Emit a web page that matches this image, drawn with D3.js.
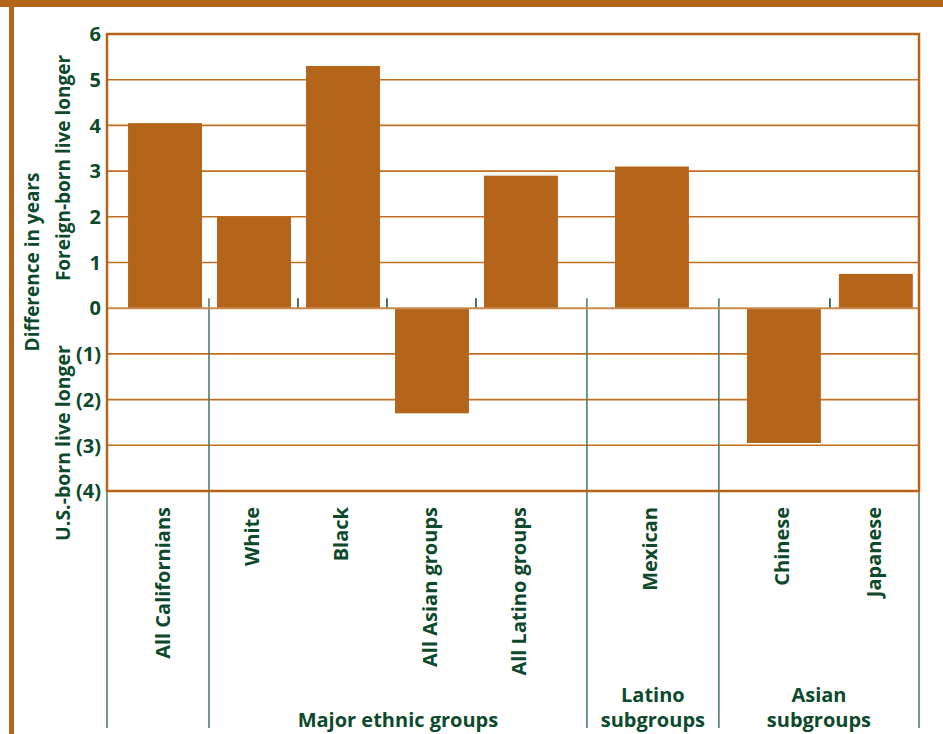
<!DOCTYPE html>
<html>
<head>
<meta charset="utf-8">
<script src="https://cdn.jsdelivr.net/npm/d3@7"></script>
<style>
  html, body { margin: 0; padding: 0; background: #ffffff; }
  svg { display: block; }
  text { font-family: "Open Sans", "Noto Sans", sans-serif; font-weight: 700; fill: #0d4a2c; }
</style>
</head>
<body>
<script>
// ---- data ----
const categories = ["All Californians", "White", "Black", "All Asian groups", "All Latino groups", "Mexican", "Chinese", "Japanese"];
const values = [4.05, 2.0, 5.3, -2.3, 2.9, 3.1, -2.95, 0.75];
const categoryGroup = [0, 1, 1, 1, 1, 2, 3, 3];
const groupLabels = [[], ["Major ethnic groups"], ["Latino", "subgroups"], ["Asian", "subgroups"]];
const yTicks = [-4, -3, -2, -1, 0, 1, 2, 3, 4, 5, 6];
const yTickLabels = ["(4)", "(3)", "(2)", "(1)", "0", "1", "2", "3", "4", "5", "6"];

// ---- layout (slot units along the category axis) ----
const W = 943, H = 734;
const frame = { left: 107, right: 919, top: 34, bottom: 491 };
const slotDomain = [0, 9.125];
const slotCenters = [0.652, 1.652, 2.652, 3.652, 4.652, 6.124, 7.607, 8.64];
const groupDividers = [0, 1.146, 5.393, 6.876, 9.125];
const smallTicks = [2.146, 3.146, 4.146, 8.124];
const barWidthUnits = 0.831;

const orange = "#b5651a";
const grid = "#bf6f22";
const green = "#4f7f6b";
const darkGreen = "#1d4f39";

const svg = d3.select("body").append("svg").attr("width", W).attr("height", H);

const x = d3.scaleLinear().domain(slotDomain).range([frame.left, frame.right]);
const y = d3.scaleLinear().domain([-4, 6]).range([frame.bottom, frame.top]);

// page decorations
svg.append("rect").attr("x", 0).attr("y", 0).attr("width", W).attr("height", 7).attr("fill", orange);
svg.append("rect").attr("x", 9).attr("y", 0).attr("width", 5).attr("height", H).attr("fill", orange);

// gridlines
svg.append("g").selectAll("line")
  .data(yTicks.filter(d => d !== 0 && d !== -4 && d !== 6))
  .join("line")
  .attr("x1", frame.left).attr("x2", frame.right)
  .attr("y1", d => y(d)).attr("y2", d => y(d))
  .attr("stroke", grid).attr("stroke-width", 1.6);

// group dividers (below plot)
svg.append("g").selectAll("line")
  .data(groupDividers)
  .join("line")
  .attr("x1", d => x(d)).attr("x2", d => x(d))
  .attr("y1", (d, i) => (i === 0 || i === groupDividers.length - 1) ? frame.bottom : y(0) - 10)
  .attr("y2", 728)
  .attr("stroke", green).attr("stroke-width", 1.6);

// small ticks above zero line
svg.append("g").selectAll("line")
  .data(smallTicks)
  .join("line")
  .attr("x1", d => x(d)).attr("x2", d => x(d))
  .attr("y1", y(0) - 10).attr("y2", y(0))
  .attr("stroke", darkGreen).attr("stroke-width", 1.6);

// bars
const bw = x(barWidthUnits) - x(0);
svg.append("g").selectAll("rect")
  .data(values)
  .join("rect")
  .attr("x", (d, i) => x(slotCenters[i]) - bw / 2)
  .attr("width", bw)
  .attr("y", d => y(Math.max(0, d)))
  .attr("height", d => Math.abs(y(d) - y(0)))
  .attr("fill", orange);

// zero line
svg.append("line")
  .attr("x1", frame.left).attr("x2", frame.right)
  .attr("y1", y(0)).attr("y2", y(0))
  .attr("stroke", "#c98a50").attr("stroke-width", 2);

// frame
svg.append("rect")
  .attr("x", frame.left).attr("y", frame.top)
  .attr("width", frame.right - frame.left).attr("height", frame.bottom - frame.top)
  .attr("fill", "none").attr("stroke", orange).attr("stroke-width", 2.5);

// y tick labels
svg.append("g").selectAll("text")
  .data(yTicks)
  .join("text")
  .attr("x", 101)
  .attr("y", d => y(d))
  .attr("dy", "0.36em")
  .attr("text-anchor", "end")
  .attr("font-size", 20)
  .text((d, i) => yTickLabels[i]);

// y titles
function vText(txt, cx, cy, size) {
  svg.append("text")
    .attr("transform", `translate(${cx},${cy}) rotate(-90)`)
    .attr("text-anchor", "middle")
    .attr("font-size", size)
    .text(txt);
}
vText("Difference in years", 39, 262, 19);
vText("Foreign-born live longer", 70, 168, 19);
vText("U.S.-born live longer", 70, 443, 19.5);

// category labels
svg.append("g").selectAll("text")
  .data(categories)
  .join("text")
  .attr("transform", (d, i) => `translate(${x(slotCenters[i]) + 5},507) rotate(-90)`)
  .attr("text-anchor", "end")
  .attr("font-size", 20)
  .text(d => d);

// group labels
groupLabels.forEach((lines, g) => {
  if (!lines.length) return;
  const cx = (x(groupDividers[g]) + x(groupDividers[g + 1])) / 2;
  const n = lines.length;
  lines.forEach((ln, k) => {
    svg.append("text")
      .attr("x", cx)
      .attr("y", 727 - (n - 1 - k) * 25)
      .attr("text-anchor", "middle")
      .attr("font-size", 20)
      .text(ln);
  });
});
</script>
</body>
</html>
